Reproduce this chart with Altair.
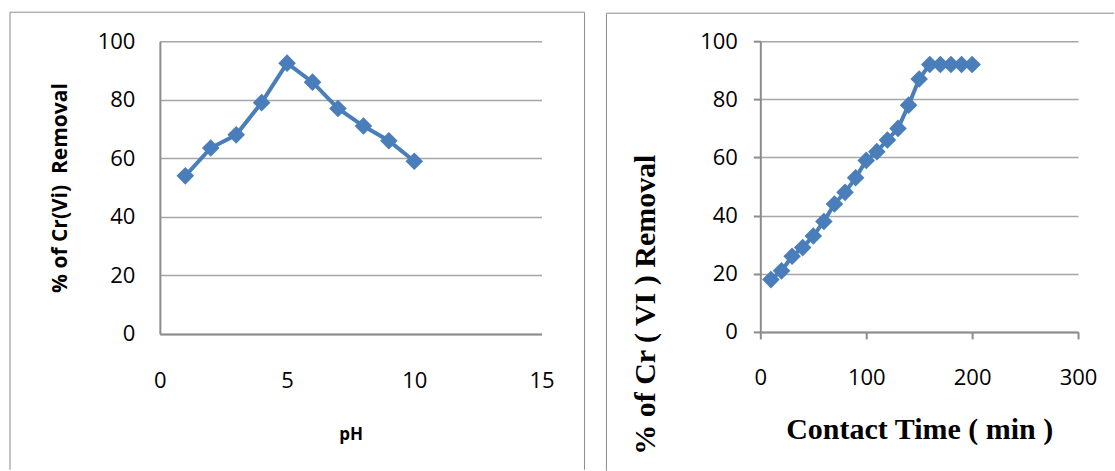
import altair as alt
import pandas as pd

# ---- data ----
ph_values = [1, 2, 3, 4, 5, 6, 7, 8, 9, 10]
ph_removal = [54, 63.5, 68, 79, 92.5, 86, 77, 71, 66, 59]

time_values = [10, 20, 30, 40, 50, 60, 70, 80, 90, 100,
               110, 120, 130, 140, 150, 160, 170, 180, 190, 200]
time_removal = [18, 21, 26, 29, 33, 38, 44, 48, 53, 59,
                62, 66, 70, 78, 87, 92, 92, 92, 92, 92]

y_ticks = [0, 20, 40, 60, 80, 100]
ph_ticks = [0, 5, 10, 15]
time_ticks = [0, 100, 200, 300]

# ---- styles ----
BLUE = "#4a7ebb"
GRID = "#a6a6a6"
AXIS = "#8c8c8c"
FRAME = "#8c8c8c"
SANS = "Open Sans"
SERIF = "Liberation Serif"

one = pd.DataFrame({"k": [0]})


def frame_rule(x, x2, y, y2):
    return alt.Chart(one).mark_rule(color=FRAME, strokeWidth=1).encode(
        x=alt.value(x), x2=alt.value(x2), y=alt.value(y), y2=alt.value(y2)
    )


# ---------------- left panel: pH ----------------
df_ph = pd.DataFrame({"pH": ph_values, "removal": ph_removal})
LW, LH = 382, 293

x_ph = alt.X(
    "pH:Q",
    scale=alt.Scale(domain=[0, 15], nice=False),
    axis=alt.Axis(
        values=ph_ticks, title="pH", grid=False, ticks=False, tickSize=0,
        domainColor=AXIS, domainWidth=2,
        labelFont=SANS, labelFontSize=22, labelColor="#000",
        labelPadding=54, labelBaseline="alphabetic",
        labelFlush=False, labelOverlap=False,
        titleFont=SANS, titleFontWeight="bold", titleFontSize=17, titleColor="#000",
        titleX=LW / 2, titleY=106, titleBaseline="alphabetic",
    ),
)
y_ph = alt.Y(
    "removal:Q",
    scale=alt.Scale(domain=[0, 100], nice=False),
    axis=alt.Axis(
        values=y_ticks, title="% of Cr(Vi)\u00a0 Removal",
        grid=True, gridColor=GRID, gridWidth=1.5,
        ticks=False, tickSize=0, domainColor=AXIS, domainWidth=2,
        labelFont=SANS, labelFontSize=22, labelColor="#000", labelPadding=25,
        labelFlush=False, labelOverlap=False,
        titleFont=SANS, titleFontWeight="bold", titleFontSize=21, titleColor="#000",
        titleAngle=270, titleX=-99, titleY=LH / 2, titleBaseline="middle",
        titleAlign="center",
    ),
)

base_ph = alt.Chart(df_ph).encode(x=x_ph, y=y_ph)
left = alt.layer(
    base_ph.mark_line(color=BLUE, strokeWidth=4),
    base_ph.mark_point(shape="diamond", filled=True, size=310, color=BLUE, opacity=1),
    frame_rule(-150, -150, -29, 429),
    frame_rule(-150, 425, -29, -29),
    frame_rule(425, 425, -29, 429),
).properties(width=LW, height=LH)

# ---------------- right panel: contact time ----------------
df_t = pd.DataFrame({"time": time_values, "removal": time_removal})
RW, RH = 318, 291

x_t = alt.X(
    "time:Q",
    scale=alt.Scale(domain=[0, 300], nice=False),
    axis=alt.Axis(
        values=time_ticks, title="Contact Time ( min )", grid=False,
        ticks=True, tickSize=7, tickColor=AXIS, tickWidth=2,
        domainColor=AXIS, domainWidth=2,
        labelFont=SANS, labelFontSize=22, labelColor="#000",
        labelPadding=46, labelBaseline="alphabetic",
        labelFlush=False, labelOverlap=False,
        titleFont=SERIF, titleFontWeight="bold", titleFontSize=30, titleColor="#000",
        titleX=RW / 2, titleY=107, titleBaseline="alphabetic",
    ),
)
y_t = alt.Y(
    "removal:Q",
    scale=alt.Scale(domain=[0, 100], nice=False),
    axis=alt.Axis(
        values=y_ticks, title="% of Cr ( VI ) Removal",
        grid=True, gridColor=GRID, gridWidth=1.5,
        ticks=True, tickSize=7, tickColor=AXIS, tickWidth=2,
        domainColor=AXIS, domainWidth=2,
        labelFont=SANS, labelFontSize=22, labelColor="#000", labelPadding=16,
        labelFlush=False, labelOverlap=False,
        titleFont=SERIF, titleFontWeight="bold", titleFontSize=30, titleColor="#000",
        titleAngle=270, titleX=-115, titleY=113, titleBaseline="middle",
        titleAlign="right",
    ),
)

base_t = alt.Chart(df_t).encode(x=x_t, y=y_t)
right = alt.layer(
    base_t.mark_line(color=BLUE, strokeWidth=4),
    base_t.mark_point(shape="diamond", filled=True, size=310, color=BLUE, opacity=1),
    frame_rule(-154, -154, -28, 430),
    frame_rule(-154, 354, -28, -28),
).properties(width=RW, height=RH)

chart = alt.hconcat(left, right, spacing=20).properties(
    padding={"left": 9, "top": 11, "right": 0, "bottom": 0},
    background="white",
).configure_view(stroke=None)

chart.save("out.html", embed_options={"renderer": "svg", "actions": False})
